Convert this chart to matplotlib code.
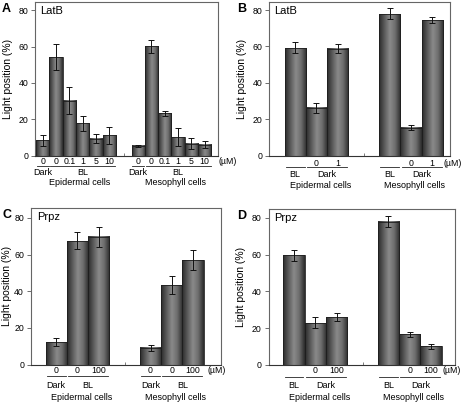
import matplotlib
matplotlib.use("Agg")
import matplotlib.pyplot as plt
import matplotlib.transforms as mtransforms
from matplotlib.colors import LinearSegmentedColormap
import numpy as np

plt.rcParams["font.family"] = ["Liberation Sans", "DejaVu Sans"]

# ---- data ----
GROUPS = ["Epidermal cells", "Mesophyll cells"]

a_epi = [8.6, 54.2, 30.2, 17.9, 9.5, 11.4]
a_epi_err = [3.0, 7.0, 7.4, 4.1, 2.5, 4.7]
a_meso = [5.5, 60.1, 23.3, 10.4, 6.8, 6.2]
a_meso_err = [0.6, 3.6, 1.3, 4.8, 2.9, 1.8]
a_doses = ["0", "0", "0.1", "1", "5", "10"]
a_conditions = [("Dark", 1), ("BL", 5)]

b_epi = [59.3, 26.4, 58.8]
b_epi_err = [3.0, 2.7, 2.6]
b_meso = [78.0, 15.4, 74.4]
b_meso_err = [3.0, 1.4, 1.7]
b_doses = ["", "0", "1"]
b_conditions = [("BL", 1), ("Dark", 2)]

c_epi = [12.4, 67.5, 69.8]
c_epi_err = [2.0, 4.7, 5.5]
c_meso = [9.3, 43.3, 56.9]
c_meso_err = [1.7, 4.8, 5.4]
c_doses = ["0", "0", "100"]
c_conditions = [("Dark", 1), ("BL", 2)]

d_epi = [59.6, 22.9, 26.0]
d_epi_err = [2.8, 3.0, 2.3]
d_meso = [78.0, 16.5, 10.0]
d_meso_err = [2.9, 1.5, 1.4]
d_doses = ["", "0", "100"]
d_conditions = [("BL", 1), ("Dark", 2)]

YTICKS = [0, 20, 40, 60, 80]

GRAD = LinearSegmentedColormap.from_list(
    "bar", ["#2b2b2b", "#5c5c5c", "#8a8a8a", "#6c6c6c", "#2b2b2b"])


def draw_panel(fig, rect, letter, letter_x, drug, vals, errs, doses, conditions,
               starts, xmax, ymax, rows, um_dx, ylabel_pad=4):
    ax = fig.add_axes(rect)
    ax.set_autoscale_on(False)
    ax.set_xlim(0, xmax)
    ax.set_ylim(0, ymax)

    grad = np.linspace(0, 1, 64).reshape(1, -1)
    blend = mtransforms.blended_transform_factory(ax.transData, ax.transAxes)
    num_dy, line_dy, cond_dy, grp_dy = rows

    for g, (v, e, x0) in enumerate(zip(vals, errs, starts)):
        xs = x0 + 0.5 + np.arange(len(v))
        bars = ax.bar(xs, v, width=1.0, facecolor="none", edgecolor="#1e1e1e",
                      linewidth=0.6, zorder=2)
        for p in bars:
            bx, by = p.get_xy()
            ax.imshow(grad, cmap=GRAD, aspect="auto", interpolation="bilinear",
                      extent=(bx, bx + p.get_width(), by, by + p.get_height()),
                      zorder=1)
        ax.errorbar(xs, v, yerr=e, fmt="none", ecolor="#111111", elinewidth=0.7,
                    capsize=2, capthick=0.7, zorder=3)

        for x, d in zip(xs, doses):
            if d:
                ax.annotate(d, xy=(x, 0), xycoords=blend, xytext=(0, -num_dy),
                            textcoords="offset pixels", ha="center", va="center",
                            fontsize=6.3)
        pos = x0
        line_tr = mtransforms.offset_copy(blend, fig=fig, y=-line_dy, units="dots")
        for name, n in conditions:
            ax.plot([pos + 0.06, pos + n - 0.06], [0, 0], color="#222222",
                    lw=0.6, transform=line_tr, clip_on=False)
            ax.annotate(name, xy=(pos + n / 2, 0), xycoords=blend,
                        xytext=(0, -cond_dy), textcoords="offset pixels",
                        ha="center", va="center", fontsize=6.5)
            pos += n
        ax.annotate(GROUPS[g], xy=(x0 + len(v) / 2, 0), xycoords=blend,
                    xytext=(4, -grp_dy), textcoords="offset pixels",
                    ha="center", va="center", fontsize=6.5)

    last = starts[-1] + len(vals[-1])
    ax.annotate("(\u00b5M)", xy=(last, 0), xycoords=blend,
                xytext=(um_dx, -num_dy), textcoords="offset pixels",
                ha="left", va="center", fontsize=6.3, annotation_clip=False)

    # small tick between the two cell groups
    gap = (starts[0] + len(vals[0]) + starts[1]) / 2
    ax.set_xticks([gap])
    ax.set_xticklabels([])
    ax.tick_params(axis="x", direction="in", length=2.5, width=0.6,
                   color="#666666")
    ax.set_yticks(YTICKS)
    ax.tick_params(axis="y", direction="out", length=3, width=0.6,
                   color="#555555", labelsize=6.3, pad=2)
    for s in ["left", "top", "right"]:
        ax.spines[s].set_color("#666666")
        ax.spines[s].set_linewidth(0.8)
    ax.spines["bottom"].set_color("#333333")
    ax.spines["bottom"].set_linewidth(0.8)

    ax.set_ylabel("Light position (%)", fontsize=7.5, labelpad=ylabel_pad)
    ax.text(0.03, 0.975, drug, transform=ax.transAxes, ha="left", va="top",
            fontsize=8)
    fig.text(letter_x, rect[1] + rect[3] - 0.003, letter,
             fontsize=9, fontweight="bold", ha="left", va="top")
    return ax


fig = plt.figure(figsize=(4.62, 4.04), dpi=100)

draw_panel(fig, [0.0758, 0.6139, 0.3961, 0.3812], "A", 0.004, "LatB",
           [a_epi, a_meso], [a_epi_err, a_meso_err], a_doses, a_conditions,
           starts=[0.075, 7.25], xmax=13.75, ymax=84.4,
           rows=(6, 10.5, 16.5, 26.5), um_dx=7)
draw_panel(fig, [0.5823, 0.6146, 0.3918, 0.3812], "B", 0.513, "LatB",
           [b_epi, b_meso], [b_epi_err, b_meso_err], b_doses, b_conditions,
           starts=[0.73, 5.18], xmax=8.52, ymax=84.6,
           rows=(7.5, 11.5, 19, 29.5), um_dx=1)
draw_panel(fig, [0.0671, 0.0973, 0.4106, 0.3879], "C", 0.006, "Prpz",
           [c_epi, c_meso], [c_epi_err, c_meso_err], c_doses, c_conditions,
           starts=[0.69, 5.14], xmax=8.95, ymax=85.4,
           rows=(6, 11.5, 20.5, 33), um_dx=4, ylabel_pad=1.5)
draw_panel(fig, [0.5816, 0.0973, 0.4032, 0.3854], "D", 0.513, "Prpz",
           [d_epi, d_meso], [d_epi_err, d_meso_err], d_doses, d_conditions,
           starts=[0.69, 5.12], xmax=8.74, ymax=84.9,
           rows=(6, 12.5, 21, 33), um_dx=1)

fig.savefig("out.png", dpi=100)
